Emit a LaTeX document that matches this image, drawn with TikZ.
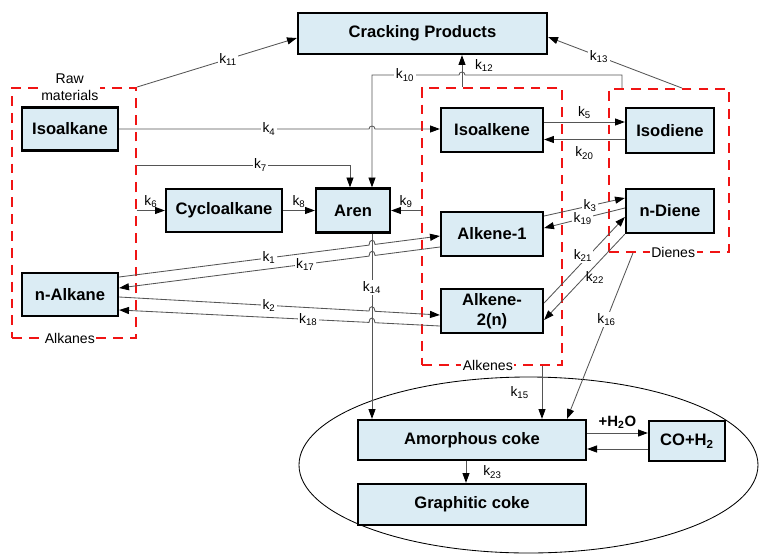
\documentclass[tikz,border=0pt]{standalone}
\usepackage{fontspec}
\setmainfont{Liberation Sans}
\usetikzlibrary{arrows.meta}
\definecolor{bleuboite}{RGB}{219,236,244}
\definecolor{rougegroupe}{RGB}{240,20,20}
\definecolor{grisfleche}{RGB}{85,85,85}

\begin{document}
\begin{tikzpicture}[x=0.025cm, y=-0.025cm]
  \tikzstyle{boite}=[rectangle, draw=black, line width=1.6pt, fill=bleuboite, inner sep=1pt,
                     font=\fontsize{11.8}{14}\selectfont\bfseries]
  \tikzstyle{groupe}=[rectangle, draw=rougegroupe, line width=1.3pt, dash pattern=on 7pt off 5pt, inner sep=0pt]
  \tikzstyle{fleche}=[draw=grisfleche, line width=0.6pt, -{Triangle[length=7pt, width=5pt, color=black]}]
  \tikzstyle{etiq}=[font=\fontsize{9.8}{11}\selectfont, inner sep=1pt]
  \tikzstyle{coupe}=[etiq, fill=white]
  \useasboundingbox (0,0) rectangle (759,555);

  % zone du coke
  \draw[line width=0.6pt] (528.5,465) ellipse [x radius=229.5, y radius=88];

  % groupes
  \node[groupe, minimum width=3.1cm, minimum height=6.25cm] (alcanes) at (74,213) {};
  \node[groupe, minimum width=3.5cm, minimum height=6.925cm] (alcenes) at (492,226.5) {};
  \node[groupe, minimum width=3cm, minimum height=4.075cm] (dienes) at (669,170.5) {};
  \node[etiq, fill=white, align=center, font=\fontsize{10}{12}\selectfont] at ([xshift=-3pt]alcanes.north) {Raw\\materials};
  \node[coupe, font=\fontsize{10}{12}\selectfont] at ([xshift=-3pt]alcanes.south) {Alkanes};
  \node[coupe, font=\fontsize{10}{12}\selectfont] at ([xshift=-3pt]alcenes.south) {Alkenes};
  \node[coupe, font=\fontsize{10}{12}\selectfont] at ([xshift=3pt]dienes.south) {Dienes};

  % especes
  \node[boite, minimum width=6.225cm, minimum height=1.025cm] (cp) at (422.5,33.5) {Cracking Products};
  \node[boite, minimum width=2.4cm, minimum height=1.075cm] (isoalcane) at (70,129) {Isoalkane};
  \node[boite, minimum width=2.4cm, minimum height=1.075cm] (nalcane) at (70,294.5) {n-Alkane};
  \node[boite, minimum width=2.9cm, minimum height=1.075cm] (cyclo) at (224,210.5) {Cycloalkane};
  \node[boite, minimum width=1.85cm, minimum height=1.1cm] (aren) at (353,210.5) {Aren};
  \node[boite, minimum width=2.55cm, minimum height=1.1cm] (isoalcene) at (492,130) {Isoalkene};
  \node[boite, minimum width=2.55cm, minimum height=1.1cm] (alcene1) at (492,234) {Alkene-1};
  \node[boite, minimum width=2.55cm, minimum height=1.1cm, align=center] (alcene2) at (492,311) {Alkene-\\2(n)};
  \node[boite, minimum width=2.2cm, minimum height=1.125cm] (isodiene) at (670,130.5) {Isodiene};
  \node[boite, minimum width=2.2cm, minimum height=1.1cm] (ndiene) at (670,211) {n-Diene};
  \node[boite, minimum width=5.7cm, minimum height=1cm] (amorphe) at (472,440) {Amorphous coke};
  \node[boite, minimum width=1.9cm, minimum height=1cm] (coh) at (687,441) {CO+H\textsubscript{2}};
  \node[boite, minimum width=5.7cm, minimum height=1.025cm] (graphite) at (472,504.5) {Graphitic coke};

  % vers les produits de craquage
  \draw[fleche] (alcanes.north east) -- node[coupe, pos=0.57] {k\textsubscript{11}} (cp.west |- 0,38);
  \draw[fleche] (dienes.north -| 682,0) -- node[coupe, pos=0.62] {k\textsubscript{13}} (cp.east |- 0,37);
  \draw[fleche] (alcenes.north -| 462,0) -- node[etiq, right=8pt, pos=0.68] {k\textsubscript{12}} (cp.south -| 462,0);
  \draw[fleche] (dienes.north -| 622,0) -- (622,75) -- (465,75)
    arc [start angle=0, end angle=-180, radius=3]
    -- node[coupe, pos=0.62] {k\textsubscript{10}} (372,75) -- (aren.north -| 372,0);

  % alcanes
  \draw[fleche] (isoalcane.east) -- node[coupe, pos=0.6] {k\textsubscript{4}} (369,129)
    arc [start angle=180, end angle=360, radius=3] -- (isoalcene.west |- 0,129);
  \draw[fleche] (alcanes.east |- 0,165) -| node[coupe, pos=0.29] {k\textsubscript{7}} (aren.north -| 350,0);
  \draw[fleche] (alcanes.east |- cyclo) -- node[etiq, above=1pt] {k\textsubscript{6}} (cyclo);
  \draw[fleche] (cyclo) -- node[etiq, above=1pt] {k\textsubscript{8}} (aren);
  \draw[fleche] (alcenes.west |- aren) -- node[etiq, above=1pt] {k\textsubscript{9}} (aren);

  % aren vers coke
  \draw[fleche] (aren.south -| 372,0) -- node[coupe, pos=0.29] {k\textsubscript{14}} (amorphe.north -| 372,0);

  % n-alcane / alcenes
  \draw[fleche] (nalcane.east |- 0,277) -- node[coupe, pos=0.6] {k\textsubscript{1}} (369,245.1)
    .. controls (369,239.1) and (375,238.4) .. (375,244.4) -- (alcene1.west |- 0,236);
  \draw[fleche] (alcene1.west |- 0,247) -- (375,255.4)
    .. controls (375,249.4) and (369,250.1) .. (369,256.1)
    -- node[coupe, pos=0.255] {k\textsubscript{17}} (nalcane.east |- 0,288);
  \draw[fleche] (nalcane.east |- 0,297) -- node[coupe, pos=0.6] {k\textsubscript{2}} (369,311)
    .. controls (369,305) and (375,305.3) .. (375,311.3) -- (alcene2.west |- 0,315);
  \draw[fleche] (alcene2.west |- 0,326) -- (375,322.7)
    .. controls (375,316.7) and (369,316.4) .. (369,322.4)
    -- node[coupe, pos=0.243] {k\textsubscript{18}} (nalcane.east |- 0,310);

  % alcenes / dienes
  \draw[fleche] (isoalcene.east |- 0,122) -- node[etiq, above=1pt] {k\textsubscript{5}} (isodiene.west |- 0,122);
  \draw[fleche] (isodiene.west |- 0,139.5) -- node[etiq, below=4pt] {k\textsubscript{20}} (isoalcene.east |- 0,139.5);
  \draw[fleche] (alcene1.east |- 0,216) -- node[coupe, pos=0.57] {k\textsubscript{3}} (ndiene.west |- 0,198);
  \draw[fleche] (ndiene.west |- 0,208) -- node[coupe, pos=0.52] {k\textsubscript{19}} (alcene1.east |- 0,228);
  \draw[fleche] (alcene2.east |- 0,303) -- node[coupe, pos=0.55, xshift=-4pt] {k\textsubscript{21}} (ndiene.west |- 0,217);
  \draw[fleche] (ndiene.south west) -- node[etiq, pos=0.506, right=0pt] {k\textsubscript{22}} (alcene2.east |- 0,320);

  % vers le coke
  \draw[fleche] (alcenes.south -| 542,0) -- node[etiq, left=8pt] {k\textsubscript{15}} (amorphe.north -| 542,0);
  \draw[fleche] (dienes.south -| 633,0) -- node[coupe, pos=0.4] {k\textsubscript{16}} (amorphe.north -| 567,0);
  \draw[fleche] (amorphe.east |- 0,433) -- node[above=2pt, inner sep=1pt, font=\fontsize{10.6}{12}\selectfont\bfseries] {+H\textsubscript{2}O} (coh.west |- 0,433);
  \draw[fleche] (coh.west |- 0,449) -- (amorphe.east |- 0,449);
  \draw[fleche] (amorphe.south -| 466,0) -- node[etiq, right=11pt] {k\textsubscript{23}} (graphite.north -| 466,0);
\end{tikzpicture}
\end{document}
